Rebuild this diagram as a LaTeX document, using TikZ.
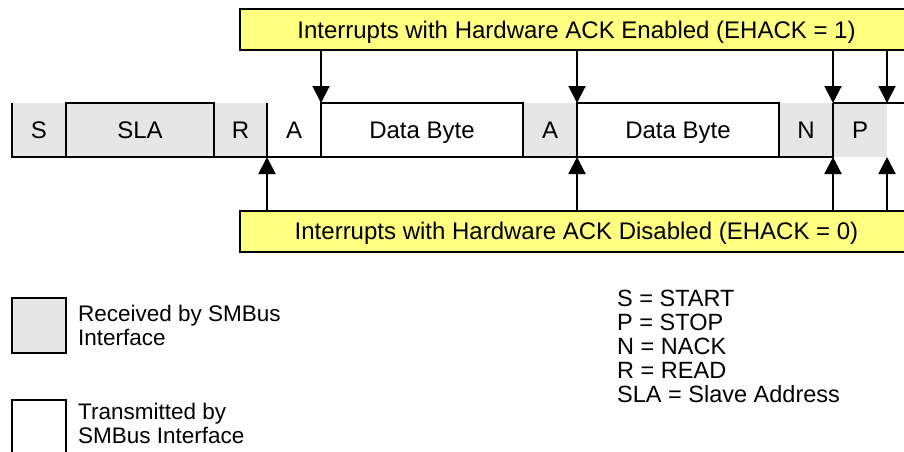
\documentclass[tikz,border=0pt]{standalone}
\usepackage{fontspec}
\setmainfont{Liberation Sans}
\usetikzlibrary{positioning,arrows.meta}
\definecolor{rxgray}{HTML}{E6E6E6}
\definecolor{irqyellow}{HTML}{FFFF80}
\tikzset{
  fld/.style={minimum width=#1, minimum height=54pt, inner sep=0pt, outer sep=0pt,
    text height=17pt, text depth=0pt, font=\fontsize{24}{27}\selectfont},
  irq/.style={draw, line width=2pt, fill=irqyellow, minimum width=673pt, minimum height=41pt,
    inner sep=0pt, outer sep=0pt, text height=17pt, text depth=0pt, font=\fontsize{24}{27}\selectfont},
  irqarrow/.style={line width=2pt, -{Triangle[width=17pt,length=17pt]}},
  keytext/.style={anchor=north west, align=left, inner sep=0pt, font=\fontsize{22.5}{24}\selectfont},
}
\begin{document}
\begin{tikzpicture}[x=1pt,y=-1pt]
\useasboundingbox (0,0) rectangle (904,451);

% frame
\node[fld=54pt, fill=rxgray] (s) at (39,130) {S};
\node[fld=148pt, fill=rxgray, right=0pt of s] (sla) {SLA};
\node[fld=53pt, fill=rxgray, right=0pt of sla] (r) {R};
\node[fld=54pt, right=0pt of r] (a1) {A};
\node[fld=202pt, right=0pt of a1] (db1) {Data Byte};
\node[fld=54pt, fill=rxgray, right=0pt of db1] (a2) {A};
\node[fld=202pt, right=0pt of a2] (db2) {Data Byte};
\node[fld=54pt, fill=rxgray, right=0pt of db2] (n) {N};
\node[fld=54pt, fill=rxgray, right=0pt of n] (p) {P};
\coordinate (pend) at (910,103);

\begin{scope}[line width=2pt]
\foreach \f in {sla,db1,db2}
  \draw (\f.north west) rectangle (\f.south east);
\draw (s.north west) -- (s.south west) -- (n.south east) -- (n.north east);
\draw (r.north east) -- (r.south east);
\draw (p.north west) -- (pend);
\end{scope}

% interrupt banners
\node[irq] (irqon) at (576.5,29.5) {Interrupts with Hardware ACK Enabled (EHACK = 1)};
\node[irq] (irqoff) at (576.5,231) {Interrupts with Hardware ACK Disabled (EHACK = 0)};

\foreach \c in {db1.north west, db2.north west, p.north west, p.north east}
  \draw[irqarrow] (irqon.south -| \c) -- (\c);
\foreach \c in {a1.south west, db2.south west, p.south west, p.south east}
  \draw[irqarrow] (irqoff.north -| \c) -- (\c);

% legend
\node[draw, line width=2pt, fill=rxgray, minimum width=54pt, minimum height=55pt, inner sep=0pt,
  outer sep=0pt, anchor=north west] (rxkey) at (12,298) {};
\node[keytext] (rxtext) at (78,305) {Received by SMBus\\Interface};
\node[draw, line width=2pt, minimum width=54pt, minimum height=55pt, inner sep=0pt,
  outer sep=0pt, anchor=north west] (txkey) at (12,400) {};
\node[keytext] (txtext) at (78,403) {Transmitted by\\SMBus Interface};

\node[keytext, font=\fontsize{23.5}{24}\selectfont] (abbrev) at (617,290)
  {S = START\\P = STOP\\N = NACK\\R = READ\\SLA = Slave Address};

\end{tikzpicture}
\end{document}
